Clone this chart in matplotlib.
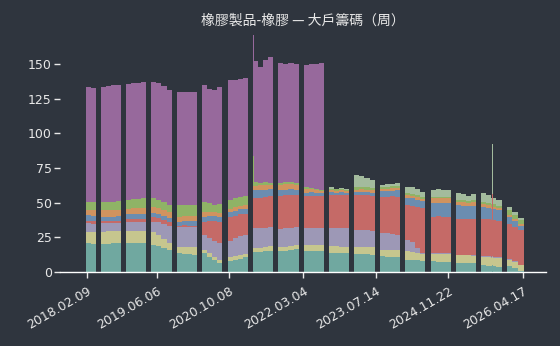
"""plot.py - 橡膠製品-橡膠 大戶籌碼 (weekly stacked bars)."""

import matplotlib
matplotlib.use('Agg')
import matplotlib.pyplot as plt
import matplotlib.dates as mdates
import numpy as np
import pandas as pd

BG = '#2f353e'
FG = '#e8e8e8'

# weekly data comes in blocks separated by missing stretches
block_start = ['2018-02-02', '2018-05-16', '2018-11-03', '2019-04-23', '2019-10-18', '2020-04-06',
               '2020-10-02', '2021-03-22', '2021-09-09', '2022-03-06', '2022-08-24', '2023-02-12',
               '2023-08-09', '2024-01-27', '2024-07-24', '2025-01-11', '2025-07-01', '2025-12-26']
block_end = ['2018-04-12', '2018-09-30', '2019-03-20', '2019-09-14', '2020-03-03', '2020-08-21',
             '2021-02-16', '2021-08-06', '2022-01-31', '2022-07-21', '2023-01-08', '2023-07-06',
             '2023-12-24', '2024-06-13', '2024-12-08', '2025-05-28', '2025-11-22', '2026-04-24']

# layer values per block (bottom -> top)
teal = [[20.7, 20.5], [20.4, 20.5, 20.6, 20.8], [20.7, 20.8, 20.8, 20.6], [19.5, 18.8, 17.6, 16.0],
        [13.5, 13.2, 12.8, 12.5], [13.5, 11.0, 8.5, 6.3], [8.0, 8.7, 9.5, 10.5], [14.6, 14.6, 15.0, 15.4],
        [15.0, 15.2, 15.6, 16.5], [15.5, 15.5, 15.4, 15.5], [13.8, 13.6, 13.5, 13.4], [13.2, 13.0, 12.8, 12.6],
        [11.2, 11.0, 10.8, 10.6], [8.8, 8.6, 8.3, 8.0], [7.6, 7.5, 7.4, 7.3], [6.5, 6.4, 6.3, 6.2],
        [5.0, 4.6, 4.0, 3.6], [4.0, 2.6, 1.0]]
yellow = [[8.4, 8.6], [8.8, 8.9, 8.9, 8.8], [8.9, 8.8, 8.7, 8.9], [9.0, 8.0, 6.5, 4.7],
          [4.8, 5.0, 5.0, 5.2], [2.4, 2.4, 2.4, 2.4], [2.6, 2.5, 2.5, 2.4], [2.5, 2.6, 2.8, 3.0],
          [3.0, 3.0, 3.2, 3.2], [4.0, 4.1, 4.0, 4.2], [4.6, 4.8, 4.8, 4.9], [5.0, 5.0, 5.2, 5.2],
          [5.0, 5.0, 5.2, 5.2], [6.0, 5.8, 5.4, 5.0], [5.5, 5.6, 5.5, 5.6], [5.5, 5.5, 5.6, 5.6],
          [6.0, 6.2, 6.4, 6.5], [5.0, 4.6, 4.0]]
lavender = [[6.0, 5.8], [5.8, 5.6, 5.5, 5.6], [6.5, 6.7, 6.8, 6.8], [7.8, 8.9, 10.5, 12.5],
            [14.2, 14.4, 14.6, 14.6], [10.8, 11.2, 11.6, 12.0], [12.0, 13.0, 14.0, 14.0], [14.4, 14.2, 14.0, 14.2],
            [13.0, 13.2, 13.0, 12.5], [12.0, 12.0, 12.2, 12.0], [13.2, 13.2, 13.3, 13.2], [12.0, 12.2, 12.2, 12.0],
            [12.0, 11.8, 11.5, 11.0], [8.5, 7.0, 3.5, 1.0], [0.7, 0.6, 0.6, 0.6], [0.5, 0.5, 0.5, 0.5],
            [0.5, 0.5, 0.5, 0.5], [0.5, 0.4, 0.3]]
red = [[1.9, 1.9], [1.8, 1.8, 1.9, 1.9], [1.9, 2.0, 2.0, 2.1], [3.6, 3.4, 3.2, 3.1],
       [0.9, 1.0, 1.0, 1.1], [9.6, 12.0, 14.0, 15.6], [17.0, 16.5, 15.8, 15.0], [21.5, 22.0, 22.5, 22.0],
       [24.0, 24.0, 23.5, 23.0], [23.0, 23.5, 23.2, 23.0], [24.0, 24.0, 24.2, 24.0], [25.2, 25.2, 25.0, 24.8],
       [26.0, 26.5, 27.0, 27.5], [25.0, 26.5, 29.5, 32.0], [26.2, 26.4, 26.5, 26.4], [26.0, 26.0, 25.8, 26.0],
       [27.0, 26.8, 26.4, 26.0], [25.0, 25.0, 25.0]]
blue = [[4.0, 3.8], [3.2, 3.0, 3.0, 3.2], [3.6, 3.6, 3.5, 3.5], [2.9, 2.8, 2.6, 2.4],
        [3.0, 3.0, 3.1, 3.1], [3.6, 3.6, 3.6, 3.6], [3.6, 3.5, 3.6, 3.6], [6.0, 5.5, 5.0, 5.0],
        [4.0, 4.0, 4.2, 4.0], [2.5, 2.5, 2.4, 2.2], [1.8, 1.6, 1.6, 1.6], [2.0, 2.1, 2.2, 2.3],
        [4.0, 4.0, 4.2, 4.5], [5.0, 5.2, 5.3, 5.0], [9.5, 9.6, 9.6, 9.7], [9.5, 9.4, 9.3, 9.4],
        [8.5, 8.4, 8.2, 8.0], [5.0, 4.0, 3.0]]
orange = [[4.0, 4.2], [4.5, 4.6, 4.5, 4.4], [4.1, 4.0, 4.2, 4.3], [4.2, 4.5, 4.6, 4.8],
          [3.6, 3.6, 3.7, 3.6], [3.6, 3.4, 3.2, 3.0], [2.5, 2.5, 2.4, 2.5], [3.0, 3.5, 3.5, 3.2],
          [4.0, 4.0, 3.8, 3.5], [2.5, 2.0, 1.8, 1.5], [1.6, 1.5, 1.5, 1.4], [2.0, 2.0, 2.0, 2.0],
          [1.8, 1.9, 1.9, 2.0], [2.0, 2.0, 2.0, 1.9], [3.5, 3.5, 3.4, 3.4], [2.5, 2.4, 2.3, 2.5],
          [2.0, 1.9, 1.7, 1.5], [1.5, 1.5, 1.5]]
green = [[5.5, 5.5], [6.0, 6.2, 6.2, 6.4], [6.5, 6.6, 6.5, 6.8], [6.0, 5.6, 5.2, 4.8],
         [8.4, 8.2, 8.3, 8.0], [7.2, 6.0, 5.0, 6.0], [6.5, 6.3, 6.4, 6.8], [3.0, 2.0, 1.8, 1.6],
         [1.5, 1.5, 1.4, 1.3], [1.5, 1.0, 0.8, 0.6], [1.0, 0.9, 0.9, 0.8], [2.0, 2.0, 1.8, 1.8],
         [1.2, 1.3, 1.3, 1.4], [1.5, 1.5, 1.5, 1.5], [1.0, 1.1, 1.1, 1.0], [1.5, 1.4, 1.3, 1.5],
         [1.5, 1.5, 1.5, 1.5], [3.6, 3.0, 2.4]]
sage = [[0, 0], [0, 0, 0, 0], [0, 0, 0, 0], [0, 0, 0, 0],
        [0, 0, 0, 0], [0, 0, 0, 0], [0, 0, 0, 0], [0, 0, 0, 0],
        [0, 0, 0, 0], [0, 0, 0, 0], [1.0, 0.4, 0.7, 0.7], [8.5, 8.0, 6.8, 5.6],
        [1.5, 1.7, 1.7, 2.2], [4.7, 4.6, 4.5, 3.5], [5.0, 5.2, 5.2, 5.0], [5.2, 4.4, 3.9, 4.8],
        [6.2, 5.6, 4.8, 4.3], [2.0, 1.9, 1.5]]
purple = [[83.0, 82.2], [83.0, 83.4, 83.9, 83.7], [83.3, 83.5, 83.8, 84.0], [84.2, 84.5, 83.8, 82.7],
          [81.6, 81.6, 81.5, 81.4], [84.1, 82.4, 82.7, 84.7], [86.2, 85.8, 85.0, 84.8], [87.0, 83.6, 88.4, 90.6],
          [86.5, 85.1, 86.3, 86.0], [88.2, 89.2, 90.2, 91.4], [0, 0, 0, 0], [0, 0, 0, 0],
          [0, 0, 0, 0], [0, 0, 0, 0], [0, 0, 0, 0], [0, 0, 0, 0],
          [0, 0, 0, 0], [0, 0, 0]]

# single-week outliers
spike_dates = ['2021-03-25', '2025-09-21']
spike_values = {
    'teal': [14.6, 5.0], 'yellow': [2.5, 6.0], 'lavender': [14.4, 0.5], 'red': [21.5, 45.0],
    'blue': [6.0, 0.0], 'orange': [3.0, 0.0], 'green': [22.0, 0.0], 'sage': [0.0, 35.5],
    'purple': [87.0, 0.0],
}

LAYERS = [('teal', teal, '#70a8a0'), ('yellow', yellow, '#c6c68e'), ('lavender', lavender, '#9d98b6'),
          ('red', red, '#c56a67'), ('blue', blue, '#6b8db0'), ('orange', orange, '#d0935f'),
          ('green', green, '#8fb366'), ('sage', sage, '#a3bb9d'), ('purple', purple, '#97699c')]

tick_dates = ['2018-02-09', '2019-06-06', '2020-10-08', '2022-03-04', '2023-07-14', '2024-11-22', '2026-04-17']

fig = plt.figure(figsize=(5.6, 3.46), dpi=100, facecolor=BG)
ax = fig.add_axes([60 / 560, 74 / 346, 486 / 560, 242 / 346])
ax.set_facecolor(BG)

# bar positions inside each block
xs, ws = [], []
for s, e, n in zip(block_start, block_end, [len(b) for b in teal]):
    s0, e0 = mdates.date2num(pd.Timestamp(s)), mdates.date2num(pd.Timestamp(e))
    w = (e0 - s0) / n
    xs += [s0 + i * w for i in range(n)]
    ws += [w] * n
xs, ws = np.array(xs), np.array(ws)

bottom = np.zeros(len(xs))
for name, vals, col in LAYERS:
    v = np.array([x for blk in vals for x in blk])
    ax.bar(xs, v, width=ws, bottom=bottom, align='edge', color=col, linewidth=0,
           antialiased=False, zorder=2)
    bottom += v

sx = mdates.date2num(pd.to_datetime(spike_dates))
sb = np.zeros(len(sx))
for name, vals, col in LAYERS:
    v = np.array(spike_values[name])
    ax.bar(sx, v, width=6, bottom=sb, align='center', color=col, linewidth=0, zorder=3)
    sb += v

ax.set_xlim(mdates.date2num(pd.Timestamp('2017-08-08')), mdates.date2num(pd.Timestamp('2026-09-22')))
ax.set_ylim(0, 174.5)
ax.set_yticks([0, 25, 50, 75, 100, 125, 150])
td = pd.to_datetime(tick_dates)
ax.set_xticks(mdates.date2num(td))
ax.set_xticklabels([d.strftime('%Y.%m.%d') for d in td], rotation=30, ha='right', rotation_mode='anchor')

for sp in ['top', 'right', 'left']:
    ax.spines[sp].set_visible(False)
ax.spines['bottom'].set_color('white')
ax.spines['bottom'].set_linewidth(1.0)
ax.tick_params(axis='both', colors=FG, labelsize=9, length=4, width=1)
ax.tick_params(axis='x', pad=5)
ax.tick_params(axis='y', pad=2)

fig.text(303 / 560, 1 - 21 / 346, '橡膠製品-橡膠 — 大戶籌碼（周）', ha='center', va='center',
         color=FG, fontsize=10, family=['Noto Sans CJK TC', 'DejaVu Sans'])

fig.savefig('out.png', dpi=100, facecolor=BG)
